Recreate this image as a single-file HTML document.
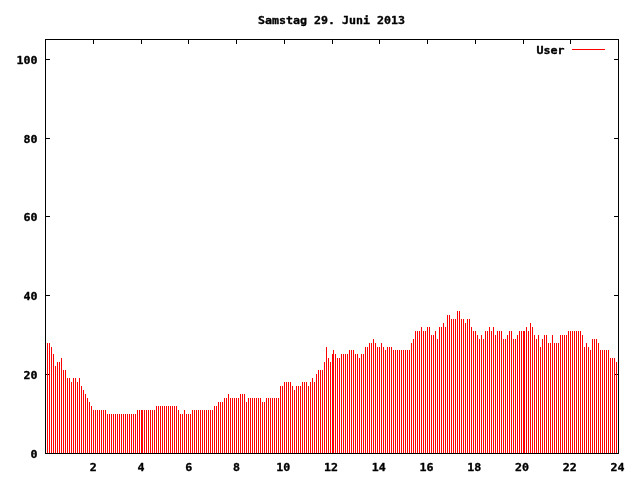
<!DOCTYPE html>
<html><head><meta charset="utf-8"><title>Samstag 29. Juni 2013</title>
<style>html,body{margin:0;padding:0;background:#fff}svg{display:block}text{font-family:"DejaVu Sans Mono", "Liberation Mono", monospace;font-weight:bold;font-size:11.63px;fill:#000;stroke:#000;stroke-width:0.35px;stroke-linejoin:round}</style></head>
<body>
<svg width="640" height="480" viewBox="0 0 640 480" shape-rendering="crispEdges">
<rect width="640" height="480" fill="#fff"/>
<g fill="#000"><rect x="93" y="449" width="1" height="4"/><rect x="93" y="40" width="1" height="4"/><rect x="141" y="449" width="1" height="4"/><rect x="141" y="40" width="1" height="4"/><rect x="188" y="449" width="1" height="4"/><rect x="188" y="40" width="1" height="4"/><rect x="236" y="449" width="1" height="4"/><rect x="236" y="40" width="1" height="4"/><rect x="284" y="449" width="1" height="4"/><rect x="284" y="40" width="1" height="4"/><rect x="332" y="449" width="1" height="4"/><rect x="332" y="40" width="1" height="4"/><rect x="379" y="449" width="1" height="4"/><rect x="379" y="40" width="1" height="4"/><rect x="427" y="449" width="1" height="4"/><rect x="427" y="40" width="1" height="4"/><rect x="475" y="449" width="1" height="4"/><rect x="475" y="40" width="1" height="4"/><rect x="523" y="449" width="1" height="4"/><rect x="523" y="40" width="1" height="4"/><rect x="570" y="449" width="1" height="4"/><rect x="570" y="40" width="1" height="4"/><rect x="46" y="453" width="4" height="1"/><rect x="614" y="453" width="4" height="1"/><rect x="46" y="374" width="4" height="1"/><rect x="614" y="374" width="4" height="1"/><rect x="46" y="295" width="4" height="1"/><rect x="614" y="295" width="4" height="1"/><rect x="46" y="216" width="4" height="1"/><rect x="614" y="216" width="4" height="1"/><rect x="46" y="138" width="4" height="1"/><rect x="614" y="138" width="4" height="1"/><rect x="46" y="59" width="4" height="1"/><rect x="614" y="59" width="4" height="1"/></g>
<g fill="none" stroke="#f00" stroke-width="1" transform="translate(0.5,0)"><path d="M47 343V453M49 343V453M51 347V453M53 354V453M55 366V453M57 362V453M59 362V453M61 358V453M63 370V453M65 370V453M67 378V453M69 378V453M71 382V453M73 378V453M75 378V453M77 382V453M79 378V453M81 386V453M83 390V453M85 394V453M87 398V453M89 402V453M91 406V453M93 410V453M95 410V453M97 410V453M99 410V453M101 410V453M103 410V453M105 410V453M107 414V453M109 414V453M111 414V453M113 414V453M115 414V453M117 414V453M119 414V453M121 414V453M123 414V453M125 414V453M127 414V453M129 414V453M131 414V453M133 414V453M135 414V453M137 410V453M139 410V453M141 410V453M142 410V453M144 410V453M146 410V453M148 410V453M150 410V453M152 410V453M154 410V453M156 406V453M158 406V453M160 406V453M162 406V453M164 406V453M166 406V453M168 406V453M170 406V453M172 406V453M174 406V453M176 406V453M178 410V453M180 414V453M182 414V453M184 410V453M186 414V453M188 414V453M190 414V453M192 410V453M194 410V453M196 410V453M198 410V453M200 410V453M202 410V453M204 410V453M206 410V453M208 410V453M210 410V453M212 410V453M214 406V453M216 406V453M218 402V453M220 402V453M222 402V453M224 398V453M226 398V453M228 394V453M230 398V453M232 398V453M234 398V453M236 398V453M238 398V453M240 394V453M242 394V453M244 394V453M246 402V453M248 398V453M250 398V453M252 398V453M254 398V453M256 398V453M258 398V453M260 398V453M262 402V453M264 402V453M266 398V453M268 398V453M270 398V453M272 398V453M274 398V453M276 398V453M278 398V453M280 386V453M282 386V453M284 382V453M286 382V453M288 382V453M290 382V453M292 386V453M294 390V453M296 386V453M298 386V453M300 386V453M302 382V453M304 382V453M306 382V453M308 386V453M310 382V453M312 378V453M314 382V453M316 374V453M318 370V453M320 370V453M322 370V453M324 362V453M326 347V453M328 358V453M330 362V453M332 354V453M333 350V453M335 354V453M337 358V453M339 358V453M341 354V453M343 354V453M345 354V453M347 354V453M349 350V453M351 350V453M353 350V453M355 354V453M357 354V453M359 358V453M361 354V453M363 354V453M365 347V453M367 347V453M369 343V453M371 343V453M373 339V453M375 343V453M377 347V453M379 347V453M381 343V453M383 347V453M385 350V453M387 347V453M389 347V453M391 347V453M393 350V453M395 350V453M397 350V453M399 350V453M401 350V453M403 350V453M405 350V453M407 350V453M409 350V453M411 343V453M413 339V453M415 331V453M417 331V453M419 331V453M421 327V453M423 331V453M425 331V453M427 327V453M429 327V453M431 335V453M433 335V453M435 331V453M437 339V453M439 327V453M441 327V453M443 323V453M445 327V453M447 315V453M449 315V453M451 319V453M453 319V453M455 319V453M457 311V453M459 311V453M461 319V453M463 319V453M465 323V453M467 319V453M469 319V453M471 327V453M473 331V453M475 331V453M477 335V453M479 339V453M481 335V453M483 339V453M485 331V453M487 331V453M489 327V453M491 331V453M493 327V453M495 335V453M497 331V453M499 331V453M501 331V453M503 339V453M505 339V453M507 335V453M509 331V453M511 331V453M513 339V453M515 339V453M517 335V453M519 331V453M521 331V453M523 331V453M524 331V453M526 327V453M528 331V453M530 323V453M532 327V453M534 335V453M536 339V453M538 335V453M540 347V453M542 339V453M544 335V453M546 335V453M548 343V453M550 343V453M552 335V453M554 343V453M556 343V453M558 343V453M560 335V453M562 335V453M564 335V453M566 335V453M568 331V453M570 331V453M572 331V453M574 331V453M576 331V453M578 331V453M580 331V453M582 335V453M584 347V453M586 343V453M588 347V453M590 350V453M592 339V453M594 339V453M596 339V453M598 343V453M600 350V453M602 350V453M604 350V453M606 350V453M608 350V453M610 358V453M612 358V453M614 358V453M616 362V453"/></g>
<rect x="572" y="49" width="33" height="1" fill="#f00"/>
<rect x="45.5" y="39.5" width="573" height="414" fill="none" stroke="#000" stroke-width="1"/>
<g>
<text transform="translate(331.5 24) scale(1 0.905)" text-anchor="middle">Samstag 29. Juni 2013</text>
<text transform="translate(564.5 54) scale(1 0.905)" text-anchor="end">User</text>
<text transform="translate(37.5 458) scale(1 0.905)" text-anchor="end">0</text>
<text transform="translate(37.5 379) scale(1 0.905)" text-anchor="end">20</text>
<text transform="translate(37.5 300) scale(1 0.905)" text-anchor="end">40</text>
<text transform="translate(37.5 221) scale(1 0.905)" text-anchor="end">60</text>
<text transform="translate(37.5 143) scale(1 0.905)" text-anchor="end">80</text>
<text transform="translate(37.5 64) scale(1 0.905)" text-anchor="end">100</text>
<text transform="translate(93.25 471) scale(1 0.905)" text-anchor="middle">2</text>
<text transform="translate(141.0 471) scale(1 0.905)" text-anchor="middle">4</text>
<text transform="translate(188.75 471) scale(1 0.905)" text-anchor="middle">6</text>
<text transform="translate(236.5 471) scale(1 0.905)" text-anchor="middle">8</text>
<text transform="translate(283.25 471) scale(1 0.905)" text-anchor="middle">10</text>
<text transform="translate(331.0 471) scale(1 0.905)" text-anchor="middle">12</text>
<text transform="translate(378.75 471) scale(1 0.905)" text-anchor="middle">14</text>
<text transform="translate(426.5 471) scale(1 0.905)" text-anchor="middle">16</text>
<text transform="translate(474.25 471) scale(1 0.905)" text-anchor="middle">18</text>
<text transform="translate(522.0 471) scale(1 0.905)" text-anchor="middle">20</text>
<text transform="translate(569.75 471) scale(1 0.905)" text-anchor="middle">22</text>
<text transform="translate(617.5 471) scale(1 0.905)" text-anchor="middle">24</text>
</g>
</svg>
</body></html>
